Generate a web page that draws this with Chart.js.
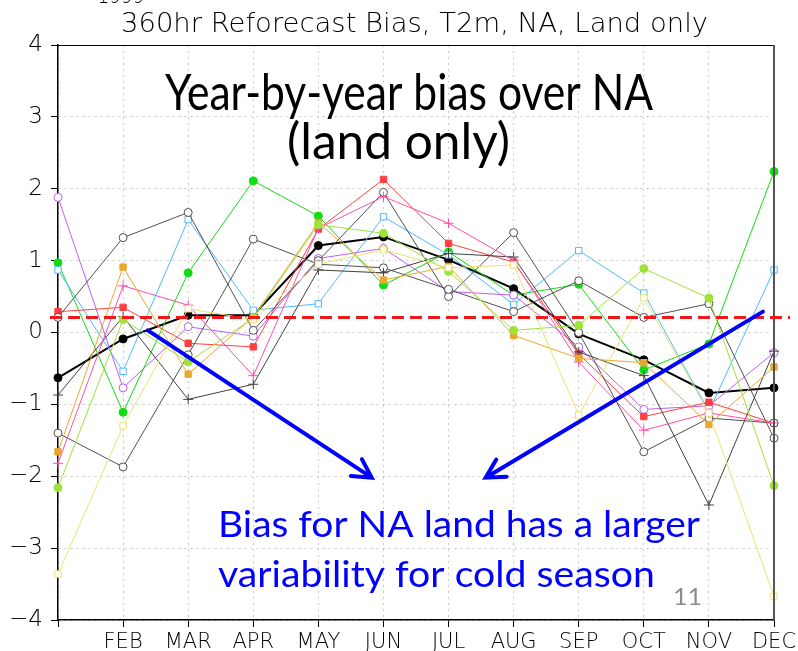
<!DOCTYPE html>
<html lang="en">
<head>
<meta charset="UTF-8">
<title>360hr Reforecast Bias, T2m, NA, Land only</title>
<script src="https://cdn.jsdelivr.net/npm/chart.js"></script>
<style>
  html, body { margin: 0; padding: 0; background: #fff; }
  #wrap { width: 798px; height: 651px; }
</style>
</head>
<body>
<div id="wrap"><canvas id="biasChart" width="798" height="651"></canvas></div>
<script>
// Months on the x axis (JAN sits on the left edge, unlabelled)
const MONTHS = ['JAN', 'FEB', 'MAR', 'APR', 'MAY', 'JUN', 'JUL', 'AUG', 'SEP', 'OCT', 'NOV', 'DEC'];
const Y_MIN = -4;
const Y_MAX = 4;

// Average bias reference (red dashed line)
const BIAS_LEVEL = 0.21;

// Year-by-year bias
const meanBias   = [-0.63, -0.09, 0.24, 0.24, 1.21, 1.33, 1.01, 0.61, -0.02, -0.38, -0.84, -0.77];
const greenBias  = [0.97, -1.11, 0.83, 2.11, 1.62, 0.66, 1.12, 0.52, 0.67, -0.52, -0.16, 2.24];
const blueBias   = [0.87, -0.54, 1.57, 0.31, 0.40, 1.61, 1.08, 0.39, 1.14, 0.55, -1.10, 0.87];
const purpleBias = [1.88, -0.77, 0.08, -0.05, 1.03, 1.17, 0.57, 0.52, -0.20, -1.07, -1.02, -0.28];
const redBias    = [0.29, 0.35, -0.15, -0.20, 1.44, 2.13, 1.24, 0.98, -0.30, -1.17, -0.97, -1.26];
const greyBiasA  = [0.21, 1.32, 1.67, 0.03, 1.00, 1.95, 0.50, 1.39, 0.00, -1.66, -1.19, -1.26];
const greyBiasB  = [-1.40, -1.87, -0.31, 1.30, 0.95, 0.90, 0.60, 0.29, 0.72, 0.21, 0.40, -1.47];
const crossBias  = [-0.87, 0.22, -0.93, -0.72, 0.87, 0.83, 1.10, 1.05, -0.27, -0.60, -2.40, -0.26];
const pinkBias   = [-1.82, 0.65, 0.38, -0.60, 1.45, 1.89, 1.52, 1.00, -0.41, -1.36, -1.12, -1.26];
const orangeBias = [-1.66, 0.91, -0.58, 0.22, 1.53, 0.73, 0.92, -0.04, -0.36, -0.42, -1.28, -0.48];
const limeBias   = [-2.16, 0.18, -0.41, 0.20, 1.50, 1.38, 0.85, 0.03, 0.10, 0.89, 0.48, -2.13];
const yellowBias = [-3.36, -1.30, 0.33, 0.18, 0.95, 1.15, 0.90, 0.94, -1.15, 0.48, -1.12, -3.67];

// Arrow annotations, in (month index, bias) units
const ARROWS = [
    { from: [1.38, 0.03], to: [4.82, -2.02] },
    { from: [10.83, 0.29], to: [6.57, -2.02] }
];

const HERSHEY = '"DejaVu Sans"';
const CALIBRI = 'Lato, "Open Sans", sans-serif';

function series(label, data, color, pointStyle, open, width) {
    return {
        label,
        data,
        borderColor: color,
        borderWidth: width || 1,
        backgroundColor: open ? '#ffffff' : color,
        pointBorderColor: color,
        pointBackgroundColor: open ? '#ffffff' : color,
        pointStyle,
        pointRadius: pointStyle === 'rect' ? 4.5 : (pointStyle === 'cross' ? 5 : 4),
        pointBorderWidth: 1,
        tension: 0,
        fill: false
    };
}

// draw text centred on cx, squeezed to the given width
function fitText(ctx, text, cx, baseline, font, width, color) {
    ctx.save();
    ctx.font = font;
    ctx.fillStyle = color;
    ctx.textAlign = 'center';
    ctx.textBaseline = 'alphabetic';
    const w = ctx.measureText(text).width;
    ctx.translate(cx, baseline);
    ctx.scale(width / w, 1);
    ctx.fillText(text, 0, 0);
    ctx.restore();
}

function drawArrow(ctx, x1, y1, x2, y2) {
    const ang = Math.atan2(y2 - y1, x2 - x1);
    const head = 21;
    const spread = 0.5;
    ctx.beginPath();
    ctx.moveTo(x1, y1);
    ctx.lineTo(x2, y2);
    ctx.moveTo(x2 - head * Math.cos(ang - spread), y2 - head * Math.sin(ang - spread));
    ctx.lineTo(x2, y2);
    ctx.lineTo(x2 - head * Math.cos(ang + spread), y2 - head * Math.sin(ang + spread));
    ctx.stroke();
}

const overlay = {
    id: 'overlay',
    afterDatasetsDraw(chart) {
        const { ctx, chartArea: area, scales: { x, y } } = chart;

        // frame: top and right edges
        ctx.save();
        ctx.strokeStyle = '#000';
        ctx.lineWidth = 1;
        ctx.beginPath();
        ctx.moveTo(area.left, area.top + 0.5);
        ctx.lineTo(area.right, area.top + 0.5);
        ctx.stroke();
        ctx.strokeStyle = '#555';
        ctx.lineWidth = 2;
        ctx.beginPath();
        ctx.moveTo(area.right, area.top);
        ctx.lineTo(area.right, area.bottom);
        ctx.stroke();

        // red dashed average line
        const yb = y.getPixelForValue(BIAS_LEVEL);
        ctx.strokeStyle = '#f01818';
        ctx.lineWidth = 3;
        ctx.setLineDash([12, 6]);
        ctx.beginPath();
        ctx.moveTo(area.left - 8, yb);
        ctx.lineTo(area.right + 16, yb);
        ctx.stroke();
        ctx.setLineDash([]);

        // blue arrows
        ctx.strokeStyle = '#0000ff';
        ctx.lineWidth = 4;
        ctx.lineCap = 'round';
        ARROWS.forEach(a => {
            drawArrow(ctx,
                x.getPixelForValue(a.from[0]), y.getPixelForValue(a.from[1]),
                x.getPixelForValue(a.to[0]), y.getPixelForValue(a.to[1]));
        });
        ctx.restore();
    },
    afterDraw(chart) {
        const ctx = chart.ctx;
        fitText(ctx, '1999', 121, 3, `200 24px ${HERSHEY}`, 47, '#000');
        fitText(ctx, '360hr Reforecast Bias, T2m, NA, Land only', 414.5, 31.5, `200 26px ${HERSHEY}`, 587, '#000');

        fitText(ctx, 'Year-by-year bias over NA', 409, 110, `400 51px ${CALIBRI}`, 488, '#000');
        fitText(ctx, '(land only)', 398.5, 159, `400 51px ${CALIBRI}`, 223, '#000');

        fitText(ctx, 'Bias for NA land has a larger', 459, 537, `400 37px ${CALIBRI}`, 482, '#0000ff');
        fitText(ctx, 'variability for cold season', 436.5, 587, `400 37px ${CALIBRI}`, 437, '#0000ff');

        fitText(ctx, '11', 687.5, 605, `400 24px ${CALIBRI}`, 29, '#8c8c8c');
    }
};

const axisGrid = {
    color: '#c8c8c8',
    lineWidth: 1,
    tickColor: '#000',
    tickLength: 7,
    drawTicks: true
};

const ctx = document.getElementById('biasChart').getContext('2d');
const biasChart = new Chart(ctx, {
    type: 'line',
    data: {
        labels: MONTHS,
        datasets: [
            series('yellow', yellowBias, '#eee070', 'rect', true),
            series('lime', limeBias, '#9ee23a', 'circle', false),
            series('orange', orangeBias, '#e8a830', 'rect', false),
            series('pink', pinkBias, '#ff4fa8', 'cross', false),
            series('cross', crossBias, '#404040', 'cross', false),
            series('greyB', greyBiasB, '#505050', 'circle', true),
            series('greyA', greyBiasA, '#505050', 'circle', true),
            series('red', redBias, '#ff4040', 'rect', false),
            series('purple', purpleBias, '#bf5ff0', 'circle', true),
            series('blue', blueBias, '#4fb8ff', 'rect', true),
            series('green', greenBias, '#12dc12', 'circle', false),
            series('mean', meanBias, '#000000', 'circle', false, 2)
        ]
    },
    options: {
        responsive: false,
        animation: false,
        events: [],
        layout: { padding: { top: 45, right: 24, left: 0, bottom: 0 } },
        plugins: {
            legend: { display: false },
            tooltip: { enabled: false },
            title: { display: false }
        },
        scales: {
            x: {
                type: 'category',
                offset: false,
                grid: axisGrid,
                border: { display: true, color: '#000', width: 1.5, dash: [2, 4] },
                ticks: {
                    autoSkip: false,
                    maxRotation: 0,
                    padding: 3,
                    color: '#000',
                    font: { family: HERSHEY, size: 21, weight: 200 },
                    callback: (v, i) => (i === 0 ? '' : MONTHS[i])
                },
                afterFit: s => { s.height = 31; s.paddingLeft = 0; s.paddingRight = 0; }
            },
            y: {
                min: Y_MIN,
                max: Y_MAX,
                grid: axisGrid,
                border: { display: true, color: '#000', width: 1.5, dash: [2, 4] },
                ticks: {
                    stepSize: 1,
                    autoSkip: false,
                    padding: 8,
                    color: '#000',
                    font: { family: HERSHEY, size: 23, weight: 200 },
                    callback: v => (v < 0 ? '\u2212' + Math.abs(v) : String(v))
                },
                afterFit: s => { s.width = 58; s.paddingTop = 0; s.paddingBottom = 0; }
            }
        }
    },
    plugins: [overlay]
});
</script>
</body>
</html>
